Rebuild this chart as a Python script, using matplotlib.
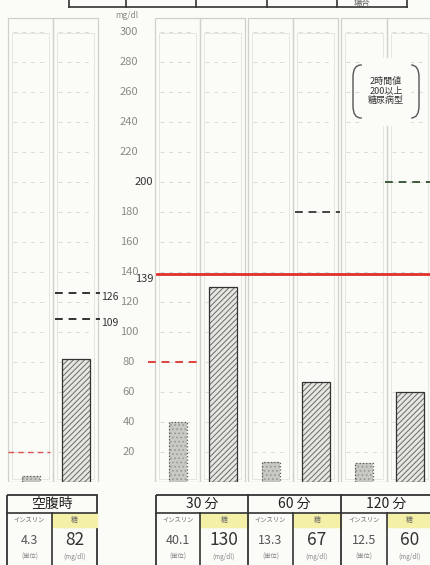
import matplotlib
matplotlib.use('Agg')
import matplotlib.pyplot as plt
from matplotlib.patches import Rectangle, FancyBboxPatch

plt.rcParams['font.family'] = ['Noto Sans CJK JP', 'DejaVu Sans']
plt.rcParams['hatch.linewidth'] = 0.7

# data
phases = ['空腹時', '30 分', '60 分', '120 分']
insulin = [4.3, 40.1, 13.3, 12.5]       # インスリン (単位)
glucose = [82, 130, 67, 60]             # 糖 (mg/dl)
insulin_txt = ['4.3', '40.1', '13.3', '12.5']
tick_vals = [20, 40, 60, 80, 100, 120, 140, 160, 180, 200, 220, 240, 260, 280, 300]
top_cells = ['', '', '', '', '場合', '']

# reference lines
fast_ins_limit = 20
fast_glu_limits = [126, 109]
ins_30_limit = 80
glu_limit_all = 139
glu_60_limit = 180
glu_120_limit = 200

# layout (pixels across the 430 px wide picture)
ins_cols = [(8, 53), (155, 200), (248, 293), (341, 387)]
glu_cols = [(53, 98), (200, 245), (293, 338), (387, 432)]

BG = '#fbfbf7'
W, H = 430, 565
fig = plt.figure(figsize=(4.3, 5.65), dpi=100, facecolor=BG)

# chart axes: y in mg/dl, 1.5 px per unit, zero at pixel row 482
ax = fig.add_axes([0, (H - 482) / H, 1, 482 / H])
ax.set_xlim(0, W)
ax.set_ylim(0, 482 / 1.5)
ax.axis('off')
ax.set_facecolor(BG)

def px(y):
    return (482 - y) / 1.5

# column frames
for x0, x1 in ins_cols + glu_cols:
    ax.add_patch(Rectangle((x0, 0), x1 - x0, px(18), fill=False,
                           edgecolor='#d0d0ca', lw=0.9))
    ax.add_patch(Rectangle((x0 + 4, 2), x1 - x0 - 8, px(33) - 2, fill=False,
                           edgecolor='#e2e2dc', lw=0.6))
    for v in tick_vals:
        ax.plot([x0 + 5, x1 - 5], [v, v], color='#dadad4', lw=0.7,
                ls=(0, (4, 5)))

# bars
for (x0, x1), v in zip(ins_cols, insulin):
    c = (x0 + x1) / 2
    ax.bar(c, v, width=18, color='#c8c8c4', edgecolor='#999994', lw=0,
           hatch='....', zorder=3)
    ax.bar(c, v, width=18, fill=False, edgecolor='#555555', lw=0.9,
           ls=':', zorder=3)
for (x0, x1), v in zip(glu_cols, glucose):
    c = (x0 + x1) / 2
    ax.bar(c, v, width=28, color='#e6e6e2', edgecolor='#6a6a66', lw=0,
           hatch='//////', zorder=3)
    ax.bar(c, v, width=28, fill=False, edgecolor='#333333', lw=0.9, zorder=3)

# reference lines
ax.plot([8, 50], [fast_ins_limit] * 2, color='#d9534f', lw=1.0, ls=(0, (4, 3)), zorder=4)
for v in fast_glu_limits:
    ax.plot([55, 100], [v, v], color='#333333', lw=1.4, ls=(0, (4, 3)), zorder=4)
    ax.text(101, v - 3, str(v), fontsize=7.5, color='#333333', ha='left', va='center')
ax.plot([148, 200], [ins_30_limit] * 2, color='#e0403a', lw=1.4, ls=(0, (4, 3)), zorder=4)
ax.plot([157, 432], [glu_limit_all] * 2, color='#e0302a', lw=2.0, zorder=4)
ax.plot([295, 340], [glu_60_limit] * 2, color='#444444', lw=1.4, ls=(0, (4, 3)), zorder=4)
ax.plot([385, 432], [glu_120_limit] * 2, color='#3d5a3a', lw=1.4, ls=(0, (4, 3)), zorder=4)

# y tick labels in the middle strip
for v in tick_vals:
    if v == 200:
        ax.text(144, v, str(v), fontsize=8, color='#333333', ha='center', va='center')
    else:
        ax.text(129, v, str(v), fontsize=8, color='#8a8a86', ha='center', va='center')
ax.text(144, glu_limit_all - 4, '139', fontsize=8, color='#333333', ha='center', va='center')
ax.text(127, px(15), 'mg/dl', fontsize=6, color='#8a8a86', ha='center', va='center')

# note box
ax.add_patch(FancyBboxPatch((353, px(118)), 66, px(65) - px(118),
                            boxstyle='round,pad=0,rounding_size=8',
                            fill=False, edgecolor='#555555', lw=1.0, zorder=4))
ax.add_patch(Rectangle((362, px(125)), 48, px(58) - px(125), color=BG, zorder=4))
ax.text(386, px(91), '2時間値\n200以上\n糖尿病型', fontsize=6.5, color='#333333',
        ha='center', va='center', linespacing=1.1, zorder=5)

# cropped table at the top
ax.plot([69, 407], [px(7), px(7)], color='#333333', lw=1.2)
tx = [69, 126, 196, 267, 337, 407]
for x in tx:
    ax.plot([x, x], [px(7), px(-2)], color='#333333', lw=1.2)
for i, s in enumerate(top_cells):
    if s:
        ax.text((tx[i] + tx[i + 1]) / 2 - 10, px(3), s, fontsize=6, color='#555555',
                ha='center', va='center')

# bottom tables in pixel coordinates
tb = fig.add_axes([0, 0, 1, (H - 482) / H])
tb.set_xlim(0, W)
tb.set_ylim(H, 482)
tb.axis('off')

def cell_values(x0, x1, x2, ins, glu):
    tb.add_patch(Rectangle((x1, 513), x2 - x1, 14, color='#f5f0a8', zorder=1))
    tb.plot([x1, x1], [513, 570], color='#333333', lw=1.2)
    tb.text((x0 + x1) / 2, 520, 'インスリン', fontsize=4.5, color='#666666',
            ha='center', va='center')
    tb.text((x1 + x2) / 2, 520, '糖', fontsize=5, color='#666666',
            ha='center', va='center')
    tb.text((x0 + x1) / 2, 540, ins, fontsize=9, color='#555555',
            ha='center', va='center')
    tb.text((x1 + x2) / 2, 540, str(glu), fontsize=12.5, color='#333333',
            ha='center', va='center')
    tb.text((x0 + x1) / 2, 557, '(単位)', fontsize=4.5, color='#888888',
            ha='center', va='center')
    tb.text((x1 + x2) / 2, 557, '(mg/dl)', fontsize=4.5, color='#888888',
            ha='center', va='center')

# fasting table
tb.add_patch(Rectangle((7, 495), 90, 80, fill=False, edgecolor='#333333', lw=1.3))
tb.plot([7, 97], [513, 513], color='#333333', lw=1.2)
tb.text(52, 504, phases[0], fontsize=10, color='#222222', ha='center', va='center')
cell_values(7, 52, 97, insulin_txt[0], glucose[0])

# timed tables
tb.add_patch(Rectangle((156, 495), 280, 80, fill=False, edgecolor='#333333', lw=1.3))
tb.plot([156, 432], [513, 513], color='#333333', lw=1.2)
groups = [(156, 200, 248), (248, 293, 341), (341, 387, 432)]
for i, (x0, x1, x2) in enumerate(groups):
    if i > 0:
        tb.plot([x0, x0], [495, 570], color='#333333', lw=1.3)
    tb.text((x0 + x2) / 2, 504, phases[i + 1], fontsize=10, color='#222222',
            ha='center', va='center')
    cell_values(x0, x1, x2, insulin_txt[i + 1], glucose[i + 1])

fig.savefig('out.png', dpi=100, facecolor=BG)
